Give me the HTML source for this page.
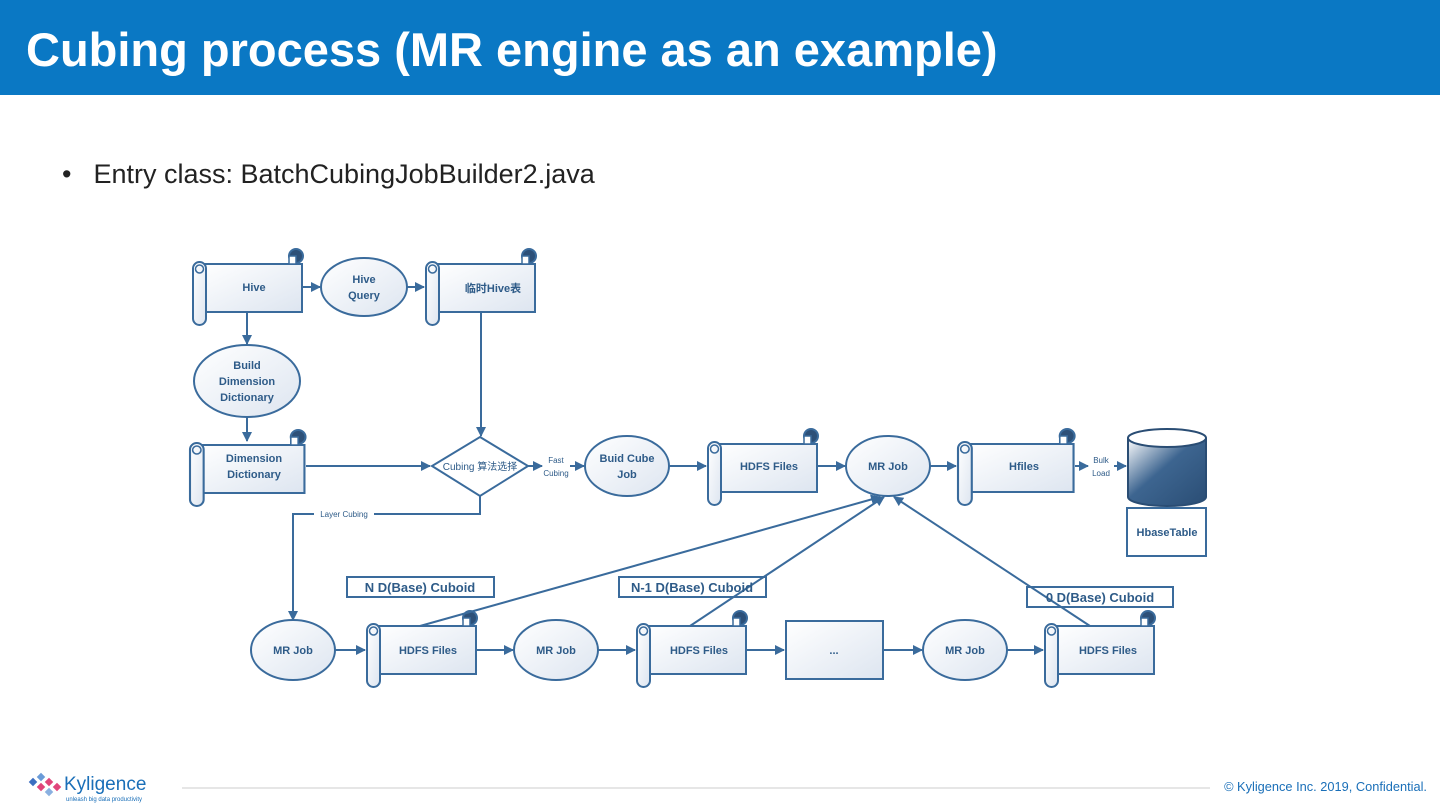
<!DOCTYPE html>
<html><head><meta charset="utf-8"><style>
body{margin:0;width:1440px;height:810px;overflow:hidden;background:#fff;font-family:"Liberation Sans","Noto Sans CJK SC",sans-serif;position:relative}
.hdr{position:absolute;left:0;top:0;width:1440px;height:95px;background:#0a78c4}
.hdr h1{margin:0;position:absolute;left:26px;top:22px;color:#fff;font-size:47px;font-weight:bold;letter-spacing:0}
.bul{position:absolute;left:62px;top:159px;font-size:27px;color:#222}
.bul span{margin-right:22px}
svg{position:absolute;left:0;top:0}
.foot{position:absolute;right:13px;top:779px;font-size:12.8px;color:#1a6fb8}
</style></head><body>
<div class="hdr"><h1>Cubing process (MR engine as an example)</h1></div>
<div class="bul"><span>•</span>Entry class: BatchCubingJobBuilder2.java</div>
<svg width="1440" height="810" viewBox="0 0 1440 810" font-family="Liberation Sans, Noto Sans CJK SC, sans-serif">
<defs>
<linearGradient id="g" x1="0" y1="0" x2="1" y2="1"><stop offset="0" stop-color="#ffffff"/><stop offset="1" stop-color="#dde5f0"/></linearGradient>
<linearGradient id="cy" x1="0" y1="0" x2="1" y2="1"><stop offset="0" stop-color="#ffffff"/><stop offset="0.45" stop-color="#3d6590"/><stop offset="1" stop-color="#2a4d74"/></linearGradient>
<marker id="a" markerWidth="10" markerHeight="10" refX="9" refY="5" orient="auto" markerUnits="userSpaceOnUse"><path d="M0,0 L10,5 L0,10 Z" fill="#3a6b9c"/></marker>
<g id="sc">
<rect x="8" y="6" width="101" height="48" fill="url(#g)" stroke="#3a6b9c" stroke-width="2"/>
<rect x="0" y="4" width="13" height="63" rx="6.5" fill="url(#g)" stroke="#3a6b9c" stroke-width="2"/>
<circle cx="6.5" cy="11" r="4" fill="none" stroke="#3a6b9c" stroke-width="1.5"/>
<circle cx="103" cy="-2" r="7" fill="#2d5078"/>
<rect x="96" y="-2" width="7" height="8" fill="#fff" stroke="#3a6b9c" stroke-width="1.5"/>
</g>
</defs>
<g stroke="#3a6b9c" stroke-width="2" fill="none">
<use href="#sc" transform="translate(193,258)"/>
<use href="#sc" transform="translate(426,258)"/>
<use href="#sc" transform="translate(190,439) scale(1.05,1)"/>
<use href="#sc" transform="translate(708,438)"/>
<use href="#sc" transform="translate(958,438) scale(1.06,1)"/>
<use href="#sc" transform="translate(367,620)"/>
<use href="#sc" transform="translate(637,620)"/>
<use href="#sc" transform="translate(1045,620)"/>
<ellipse cx="364" cy="287" rx="43" ry="29" fill="url(#g)"/>
<ellipse cx="247" cy="381" rx="53" ry="36" fill="url(#g)"/>
<ellipse cx="627" cy="466" rx="42" ry="30" fill="url(#g)"/>
<ellipse cx="888" cy="466" rx="42" ry="30" fill="url(#g)"/>
<ellipse cx="293" cy="650" rx="42" ry="30" fill="url(#g)"/>
<ellipse cx="556" cy="650" rx="42" ry="30" fill="url(#g)"/>
<ellipse cx="965" cy="650" rx="42" ry="30" fill="url(#g)"/>
<path d="M480,437 L528,466 L480,496 L432,466 Z" fill="#fff"/>
<rect x="786" y="621" width="97" height="58" fill="url(#g)"/>
<rect x="1127" y="508" width="79" height="48" fill="#fff"/>
<rect x="347" y="577" width="147" height="20" fill="#fff"/>
<rect x="619" y="577" width="147" height="20" fill="#fff"/>
<rect x="1027" y="587" width="146" height="20" fill="#fff"/>
<path d="M1128,438 V497 A39,9 0 0 0 1206,497 V438" fill="url(#cy)" stroke="#2a4d74"/>
<ellipse cx="1167" cy="438" rx="39" ry="9" fill="#fff" stroke="#2a4d74"/>
<g marker-end="url(#a)">
<path d="M302,287 H320"/>
<path d="M407,287 H424"/>
<path d="M247,312 V344"/>
<path d="M247,417 V441"/>
<path d="M481,312 V436"/>
<path d="M306,466 H430"/>
<path d="M528,466 H542"/>
<path d="M570,466 H584"/>
<path d="M669,466 H706"/>
<path d="M817,466 H845"/>
<path d="M930,466 H956"/>
<path d="M1075,466 H1088"/>
<path d="M1114,466 H1126"/>
<path d="M480,496 V514 H293 V620"/>
<path d="M335,650 H365"/>
<path d="M475,650 H513"/>
<path d="M598,650 H635"/>
<path d="M747,650 H784"/>
<path d="M883,650 H922"/>
<path d="M1007,650 H1043"/>
<path d="M420,626 L880,497"/>
<path d="M690,626 L884,497"/>
<path d="M1090,626 L894,497"/>
</g>
</g>
<g fill="#2e5b88" font-size="11" font-weight="bold" text-anchor="middle">
<text x="254" y="291">Hive</text>
<text x="364" y="283">Hive</text><text x="364" y="299">Query</text>
<text x="493" y="292">临时Hive表</text>
<text x="247" y="369">Build</text><text x="247" y="385">Dimension</text><text x="247" y="401">Dictionary</text>
<text x="254" y="462">Dimension</text><text x="254" y="478">Dictionary</text>
<text x="480" y="470" font-size="10" font-weight="normal">Cubing 算法选择</text>
<text x="627" y="462">Buid Cube</text><text x="627" y="478">Job</text>
<text x="769" y="470">HDFS Files</text>
<text x="888" y="470">MR Job</text>
<text x="1024" y="470">Hfiles</text>
<text x="1167" y="536">HbaseTable</text>
<text x="293" y="654">MR Job</text>
<text x="428" y="654">HDFS Files</text>
<text x="556" y="654">MR Job</text>
<text x="699" y="654">HDFS Files</text>
<text x="834" y="654">...</text>
<text x="965" y="654">MR Job</text>
<text x="1108" y="654">HDFS Files</text>
<text x="420" y="592" font-size="13">N D(Base) Cuboid</text>
<text x="692" y="592" font-size="13">N-1 D(Base) Cuboid</text>
<text x="1100" y="602" font-size="13">0 D(Base) Cuboid</text>
</g>
<g fill="#2e5b88" font-size="8" text-anchor="middle">
<text x="556" y="463">Fast</text><text x="556" y="476">Cubing</text>
<text x="1101" y="463">Bulk</text><text x="1101" y="476">Load</text>
<rect x="314" y="509" width="60" height="10" fill="#fff"/>
<text x="344" y="517">Layer Cubing</text>
</g>
<line x1="182" y1="788" x2="1210" y2="788" stroke="#ccc" stroke-width="1"/>
<g>
<rect x="30" y="779" width="6" height="6" fill="#3c6ec0" transform="rotate(45 33 782)"/>
<rect x="38" y="774" width="6" height="6" fill="#6a9bd8" transform="rotate(45 41 777)"/>
<rect x="38" y="784" width="6" height="6" fill="#e0457b" transform="rotate(45 41 787)"/>
<rect x="46" y="779" width="6" height="6" fill="#e0457b" transform="rotate(45 49 782)"/>
<rect x="46" y="789" width="6" height="6" fill="#8ab0e0" transform="rotate(45 49 792)"/>
<rect x="54" y="784" width="6" height="6" fill="#e0457b" transform="rotate(45 57 787)"/>
<text x="64" y="790" font-size="19" fill="#1a6fb8">Kyligence</text>
<text x="66" y="801" font-size="6" fill="#1a6fb8">unleash big data productivity</text>
</g>
</svg>
<div class="foot">© Kyligence Inc. 2019, Confidential.</div>
</body></html>
